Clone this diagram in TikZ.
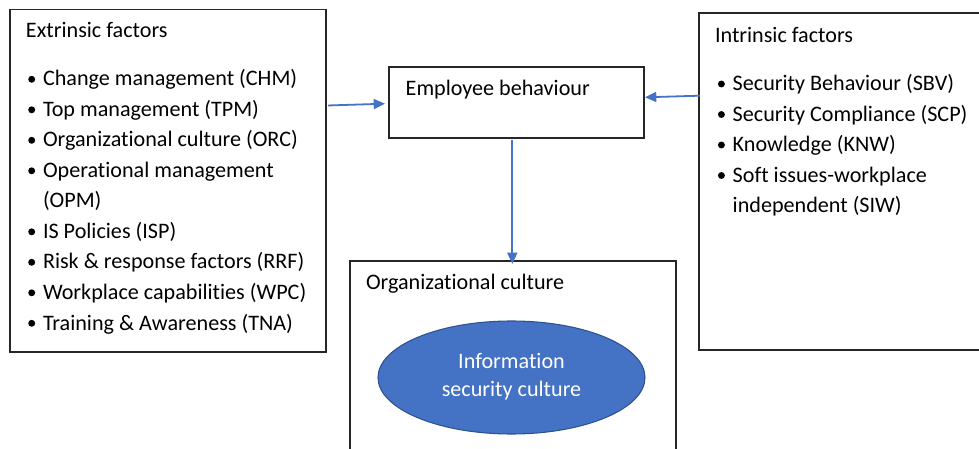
\documentclass[tikz,border=0pt]{standalone}
\usepackage{fontspec}
\setmainfont{Carlito}[Ligatures={NoCommon}]
\usetikzlibrary{calc,arrows.meta,shapes.geometric}
\definecolor{officeblue}{HTML}{4472C4}
\definecolor{ellborder}{HTML}{2F528F}
\definecolor{boxline}{HTML}{262626}
% one bulleted line: name, x, baseline y, text
\newcommand\bulletline[4]{%
  \node[txt] (#1) at (#2,#3) {#4};
  \fill ($(#1.base west)+(-11.3,-6.7)$) circle[radius=2.6pt];
}
\begin{document}
\begin{tikzpicture}[x=0.75pt,y=-0.75pt,
  box/.style={draw=boxline,line width=0.8pt,rectangle,inner sep=0pt,outer sep=0pt},
  txt/.style={anchor=base west,inner sep=0pt,outer sep=0pt,font=\fontsize{16.6}{20}\selectfont},
  arr/.style={draw=officeblue,line width=1.35pt,-{Triangle[length=8.5pt,width=7.5pt]}},
]
\useasboundingbox (0,0) rectangle (979,449);
\clip (0,0) rectangle (979,449);

% frames
\node[box,minimum width=237pt,minimum height=256.9pt] (ext) at (168,180.75) {};
\node[box,minimum width=191.25pt,minimum height=53.25pt] (emp) at (516.5,102.5) {};
\node[box,minimum width=218.25pt,minimum height=252.75pt] (intr) at (844.5,181.5) {};
\node[box,minimum width=244.5pt,minimum height=156.75pt] (org) at (513,365.5) {};
\node[ellipse,fill=officeblue,draw=ellborder,line width=0.8pt,inner sep=0pt,
      minimum width=200.25pt,minimum height=84.75pt] (isc) at (511.5,377.5) {};

% extrinsic factors
\node[txt] (exttitle) at (26,38) {Extrinsic factors};
\bulletline{chm}{43}{86}{Change management (CHM)}
\bulletline{tpm}{43}{116.5}{Top management (TPM)}
\bulletline{orc}{43}{147}{Organizational culture (ORC)}
\bulletline{opm}{43}{177.5}{Operational management}
\node[txt] (opm2) at (43,208) {(OPM)};
\bulletline{isp}{43}{238.5}{IS Policies (ISP)}
\bulletline{rrf}{43}{269}{Risk \& response factors (RRF)}
\bulletline{wpc}{43}{299.5}{Workplace capabilities (WPC)}
\bulletline{tna}{43}{330}{Training \& Awareness (TNA)}

% employee behaviour
\node[txt] (emptitle) at (405.7,95.7) {Employee behaviour};

% intrinsic factors
\node[txt] (intrtitle) at (715,43) {Intrinsic factors};
\bulletline{sbv}{732.7}{90.7}{Security Behaviour (SBV)}
\bulletline{scp}{732.7}{121.2}{Security Compliance (SCP)}
\bulletline{knw}{732.7}{151.7}{Knowledge (KNW)}
\bulletline{siw}{732.7}{182.2}{Soft issues-workplace}
\node[txt] (siw2) at (732.7,212.7) {independent (SIW)};

% organizational culture
\node[txt] (orgtitle) at (366,290) {Organizational culture};
\node[txt,anchor=base,text=white] (isc1) at (511.5,368.3) {Information};
\node[txt,anchor=base,text=white] (isc2) at (511.5,396.7) {security culture};

% connectors
\draw[arr] ($(ext.north east)+(2,96)$) -- ($(emp.west)+(-4,1.2)$);
\draw[arr] ($(intr.north west)+(1,82.7)$) -- ($(emp.east)+(1,-5.2)$);
\draw[arr] ($(emp.south)+(-4.2,2)$) -- ($(org.north)+(-0.7,3)$);
\end{tikzpicture}
\end{document}
